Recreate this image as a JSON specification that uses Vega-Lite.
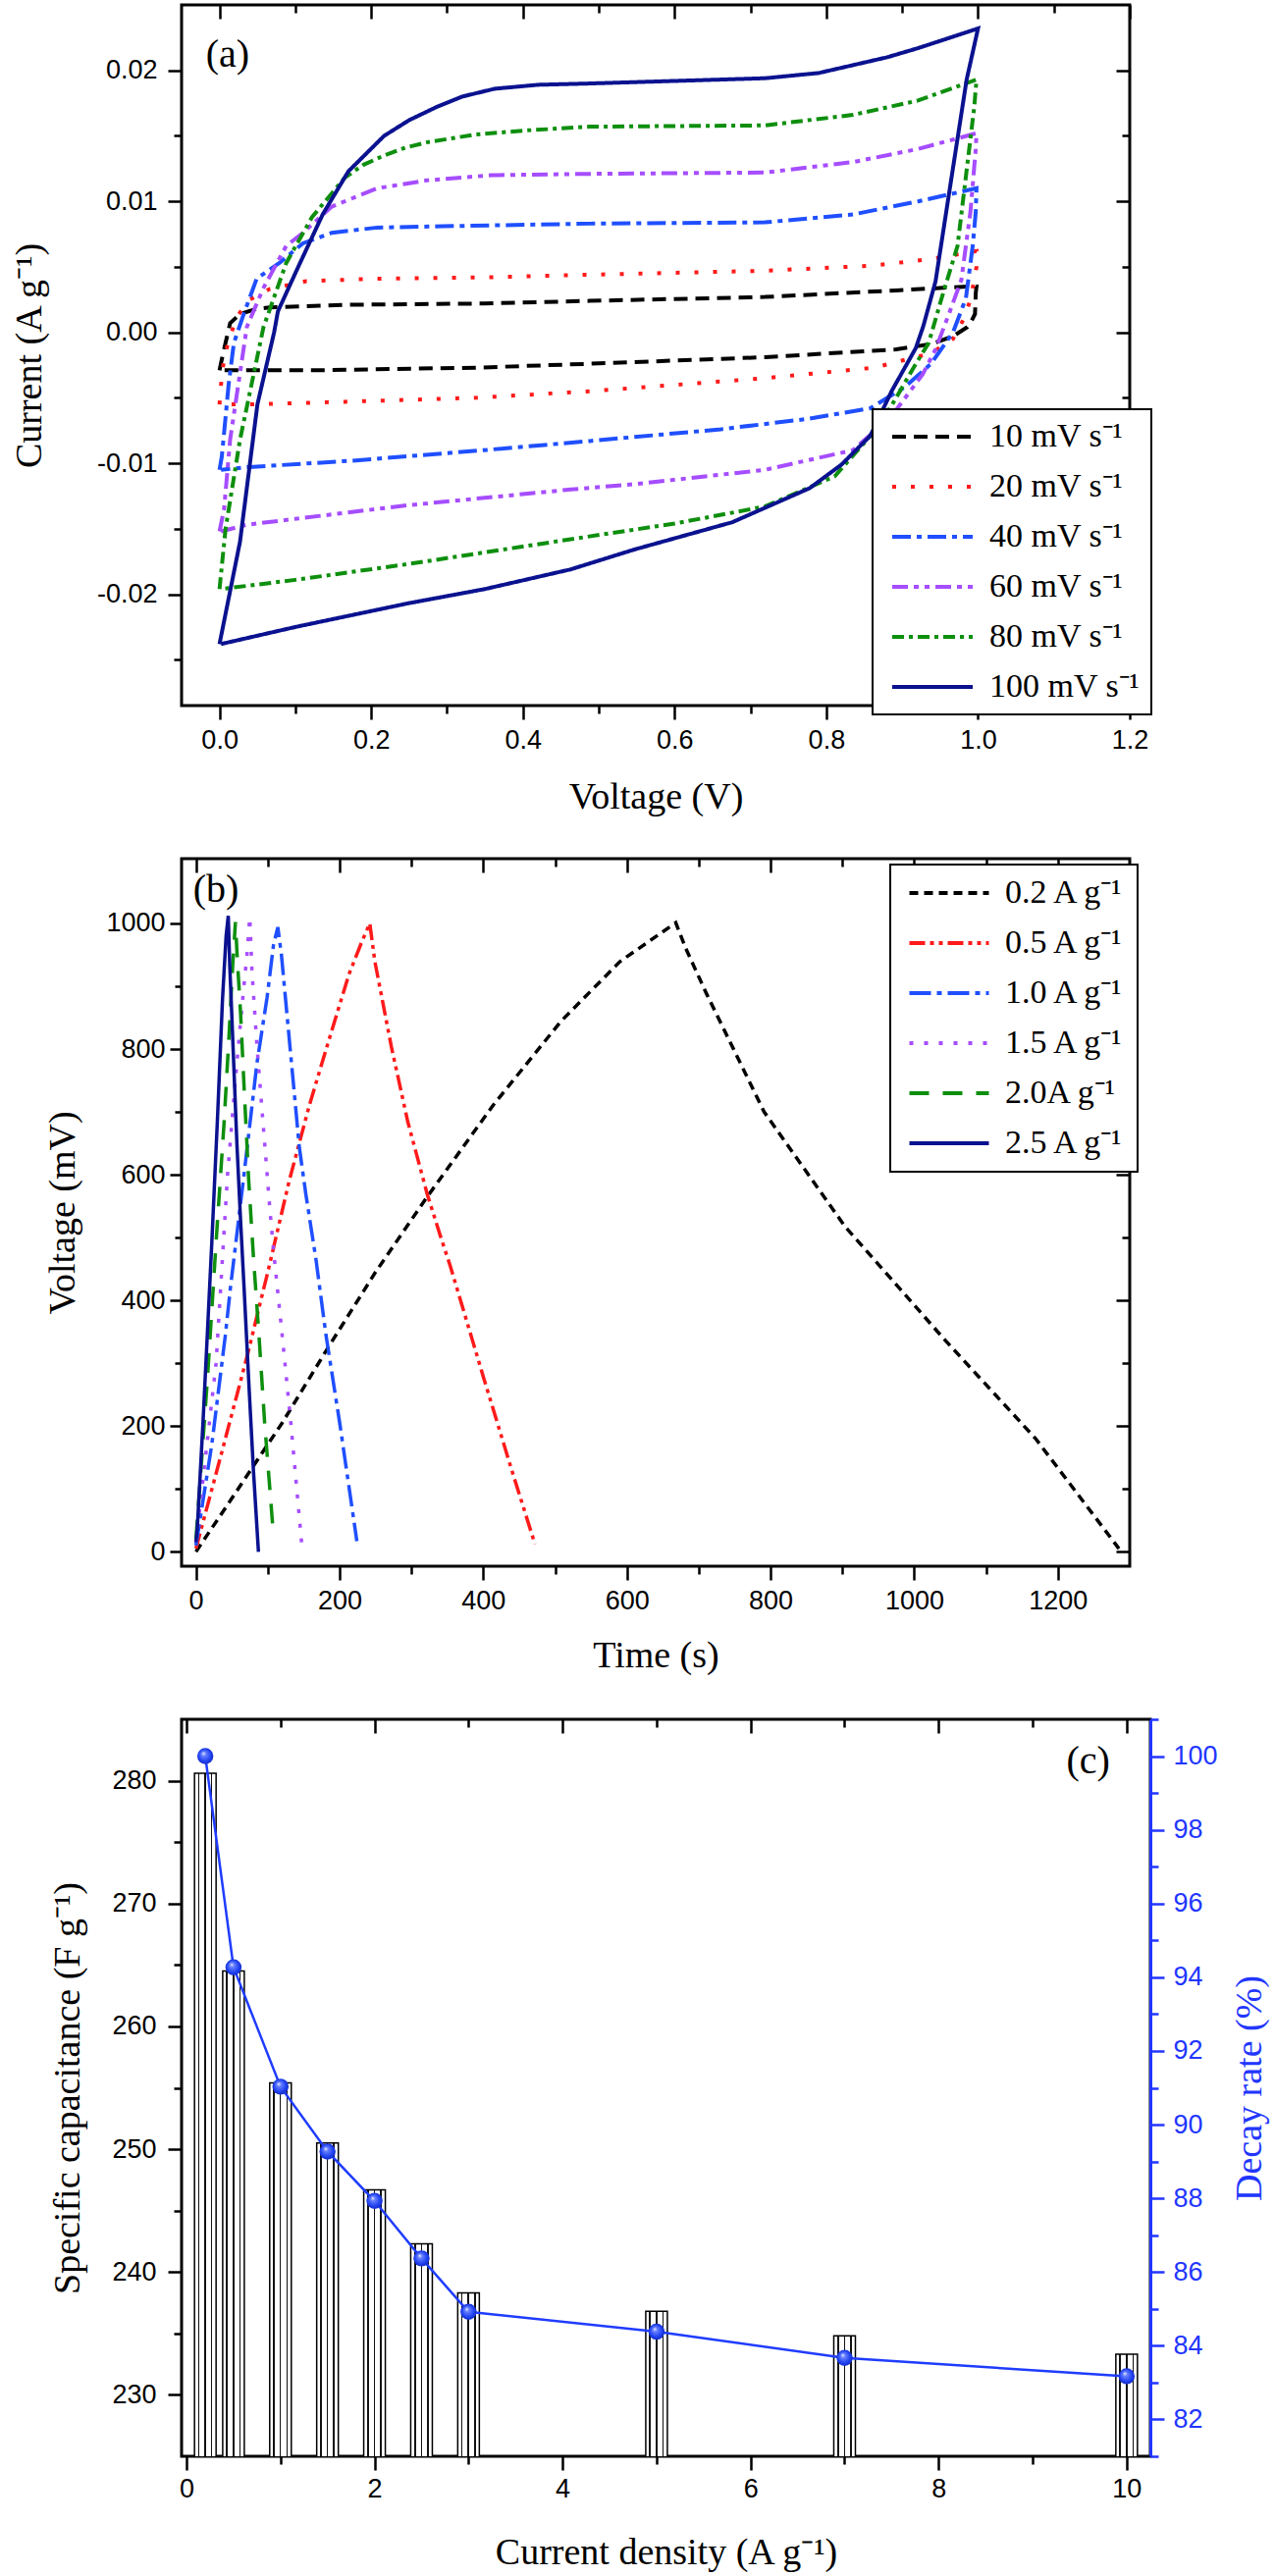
{
  "padding": {"left": 9, "top": 2, "right": 0, "bottom": 0},
  "bounds": "flush",
  "spacing": 156,
  "resolve": {"scale": {"color": "independent", "strokeDash": "independent"}, "legend": {"color": "independent", "strokeDash": "independent"}},
  "config": {
    "view": {"stroke": "black", "strokeWidth": 3},
    "axis": {"grid": false, "domainColor": "black", "domainWidth": 3, "tickColor": "black", "tickWidth": 2.5, "tickSize": 14, "labelFont": "Liberation Sans", "labelFontSize": 27, "labelColor": "black", "labelFlush": false, "labelOverlap": false, "titleFont": "Liberation Serif", "titleFontSize": 38, "titleFontWeight": "normal", "titleColor": "black"},
    "legend": {"labelFont": "Liberation Serif", "labelFontSize": 34, "labelColor": "black", "labelLimit": 400, "fillColor": "white", "strokeColor": "black", "strokeWidth": 2}
  },
  "datasets": {
    "cv": [
      {"s":"10 mV s⁻¹","i":0,"V":0,"I":-0.0029},{"s":"10 mV s⁻¹","i":1,"V":0.004,"I":-0.0018},{"s":"10 mV s⁻¹","i":2,"V":0.008,"I":-0.0008},{"s":"10 mV s⁻¹","i":3,"V":0.014,"I":0.0007},{"s":"10 mV s⁻¹","i":4,"V":0.027,"I":0.0014},{"s":"10 mV s⁻¹","i":5,"V":0.049,"I":0.0018},{"s":"10 mV s⁻¹","i":6,"V":0.066,"I":0.0019},{"s":"10 mV s⁻¹","i":7,"V":0.165,"I":0.0021},{"s":"10 mV s⁻¹","i":8,"V":0.35,"I":0.0022},{"s":"10 mV s⁻¹","i":9,"V":0.488,"I":0.0024},{"s":"10 mV s⁻¹","i":10,"V":0.719,"I":0.0027},{"s":"10 mV s⁻¹","i":11,"V":0.892,"I":0.0032},{"s":"10 mV s⁻¹","i":12,"V":0.986,"I":0.0035},{"s":"10 mV s⁻¹","i":13,"V":0.998,"I":0.0035},{"s":"10 mV s⁻¹","i":14,"V":0.997,"I":0.003},{"s":"10 mV s⁻¹","i":15,"V":0.996,"I":0.0014},{"s":"10 mV s⁻¹","i":16,"V":0.99,"I":0.0007},{"s":"10 mV s⁻¹","i":17,"V":0.986,"I":0.0004},{"s":"10 mV s⁻¹","i":18,"V":0.967,"I":-0.0003},{"s":"10 mV s⁻¹","i":19,"V":0.938,"I":-0.0009},{"s":"10 mV s⁻¹","i":20,"V":0.892,"I":-0.0013},{"s":"10 mV s⁻¹","i":21,"V":0.719,"I":-0.0019},{"s":"10 mV s⁻¹","i":22,"V":0.488,"I":-0.0024},{"s":"10 mV s⁻¹","i":23,"V":0.337,"I":-0.0027},{"s":"10 mV s⁻¹","i":24,"V":0.122,"I":-0.0029},{"s":"10 mV s⁻¹","i":25,"V":0.002,"I":-0.0029},
      {"s":"20 mV s⁻¹","i":0,"V":0,"I":-0.0055},{"s":"20 mV s⁻¹","i":1,"V":0.002,"I":-0.004},{"s":"20 mV s⁻¹","i":2,"V":0.004,"I":-0.0028},{"s":"20 mV s⁻¹","i":3,"V":0.008,"I":-0.0015},{"s":"20 mV s⁻¹","i":4,"V":0.014,"I":-0.0003},{"s":"20 mV s⁻¹","i":5,"V":0.023,"I":0.0012},{"s":"20 mV s⁻¹","i":6,"V":0.04,"I":0.0025},{"s":"20 mV s⁻¹","i":7,"V":0.066,"I":0.0033},{"s":"20 mV s⁻¹","i":8,"V":0.114,"I":0.0039},{"s":"20 mV s⁻¹","i":9,"V":0.208,"I":0.0041},{"s":"20 mV s⁻¹","i":10,"V":0.35,"I":0.0042},{"s":"20 mV s⁻¹","i":11,"V":0.488,"I":0.0044},{"s":"20 mV s⁻¹","i":12,"V":0.719,"I":0.0047},{"s":"20 mV s⁻¹","i":13,"V":0.863,"I":0.0051},{"s":"20 mV s⁻¹","i":14,"V":0.938,"I":0.0056},{"s":"20 mV s⁻¹","i":15,"V":0.998,"I":0.0062},{"s":"20 mV s⁻¹","i":16,"V":0.998,"I":0.005},{"s":"20 mV s⁻¹","i":17,"V":0.995,"I":0.004},{"s":"20 mV s⁻¹","i":18,"V":0.99,"I":0.0025},{"s":"20 mV s⁻¹","i":19,"V":0.981,"I":0.001},{"s":"20 mV s⁻¹","i":20,"V":0.967,"I":-0.0005},{"s":"20 mV s⁻¹","i":21,"V":0.938,"I":-0.0016},{"s":"20 mV s⁻¹","i":22,"V":0.863,"I":-0.0027},{"s":"20 mV s⁻¹","i":23,"V":0.719,"I":-0.0035},{"s":"20 mV s⁻¹","i":24,"V":0.488,"I":-0.0045},{"s":"20 mV s⁻¹","i":25,"V":0.337,"I":-0.005},{"s":"20 mV s⁻¹","i":26,"V":0.165,"I":-0.0053},{"s":"20 mV s⁻¹","i":27,"V":0.045,"I":-0.0055},{"s":"20 mV s⁻¹","i":28,"V":0.002,"I":-0.0055},
      {"s":"40 mV s⁻¹","i":0,"V":0,"I":-0.0105},{"s":"40 mV s⁻¹","i":1,"V":0.003,"I":-0.0095},{"s":"40 mV s⁻¹","i":2,"V":0.006,"I":-0.0077},{"s":"40 mV s⁻¹","i":3,"V":0.012,"I":-0.004},{"s":"40 mV s⁻¹","i":4,"V":0.019,"I":-0.0008},{"s":"40 mV s⁻¹","i":5,"V":0.032,"I":0.0014},{"s":"40 mV s⁻¹","i":6,"V":0.049,"I":0.0041},{"s":"40 mV s⁻¹","i":7,"V":0.079,"I":0.0053},{"s":"40 mV s⁻¹","i":8,"V":0.11,"I":0.0068},{"s":"40 mV s⁻¹","i":9,"V":0.148,"I":0.0076},{"s":"40 mV s⁻¹","i":10,"V":0.208,"I":0.008},{"s":"40 mV s⁻¹","i":11,"V":0.295,"I":0.0081},{"s":"40 mV s⁻¹","i":12,"V":0.488,"I":0.0083},{"s":"40 mV s⁻¹","i":13,"V":0.719,"I":0.0084},{"s":"40 mV s⁻¹","i":14,"V":0.835,"I":0.009},{"s":"40 mV s⁻¹","i":15,"V":0.921,"I":0.01},{"s":"40 mV s⁻¹","i":16,"V":0.998,"I":0.011},{"s":"40 mV s⁻¹","i":17,"V":0.997,"I":0.0092},{"s":"40 mV s⁻¹","i":18,"V":0.993,"I":0.0066},{"s":"40 mV s⁻¹","i":19,"V":0.984,"I":0.0026},{"s":"40 mV s⁻¹","i":20,"V":0.967,"I":0},{"s":"40 mV s⁻¹","i":21,"V":0.938,"I":-0.0024},{"s":"40 mV s⁻¹","i":22,"V":0.903,"I":-0.0042},{"s":"40 mV s⁻¹","i":23,"V":0.858,"I":-0.0058},{"s":"40 mV s⁻¹","i":24,"V":0.777,"I":-0.0066},{"s":"40 mV s⁻¹","i":25,"V":0.661,"I":-0.0074},{"s":"40 mV s⁻¹","i":26,"V":0.488,"I":-0.0083},{"s":"40 mV s⁻¹","i":27,"V":0.348,"I":-0.009},{"s":"40 mV s⁻¹","i":28,"V":0.175,"I":-0.0098},{"s":"40 mV s⁻¹","i":29,"V":0.036,"I":-0.0103},{"s":"40 mV s⁻¹","i":30,"V":0.002,"I":-0.0105},
      {"s":"60 mV s⁻¹","i":0,"V":0,"I":-0.0152},{"s":"60 mV s⁻¹","i":1,"V":0.006,"I":-0.0135},{"s":"60 mV s⁻¹","i":2,"V":0.014,"I":-0.0082},{"s":"60 mV s⁻¹","i":3,"V":0.036,"I":0.0004},{"s":"60 mV s⁻¹","i":4,"V":0.058,"I":0.0034},{"s":"60 mV s⁻¹","i":5,"V":0.088,"I":0.0066},{"s":"60 mV s⁻¹","i":6,"V":0.11,"I":0.0076},{"s":"60 mV s⁻¹","i":7,"V":0.148,"I":0.0096},{"s":"60 mV s⁻¹","i":8,"V":0.208,"I":0.011},{"s":"60 mV s⁻¹","i":9,"V":0.273,"I":0.0116},{"s":"60 mV s⁻¹","i":10,"V":0.359,"I":0.012},{"s":"60 mV s⁻¹","i":11,"V":0.488,"I":0.0121},{"s":"60 mV s⁻¹","i":12,"V":0.719,"I":0.0122},{"s":"60 mV s⁻¹","i":13,"V":0.835,"I":0.013},{"s":"60 mV s⁻¹","i":14,"V":0.921,"I":0.014},{"s":"60 mV s⁻¹","i":15,"V":0.998,"I":0.0152},{"s":"60 mV s⁻¹","i":16,"V":0.997,"I":0.014},{"s":"60 mV s⁻¹","i":17,"V":0.99,"I":0.0092},{"s":"60 mV s⁻¹","i":18,"V":0.978,"I":0.004},{"s":"60 mV s⁻¹","i":19,"V":0.961,"I":0.0013},{"s":"60 mV s⁻¹","i":20,"V":0.944,"I":-0.0013},{"s":"60 mV s⁻¹","i":21,"V":0.927,"I":-0.0032},{"s":"60 mV s⁻¹","i":22,"V":0.886,"I":-0.0064},{"s":"60 mV s⁻¹","i":23,"V":0.835,"I":-0.009},{"s":"60 mV s⁻¹","i":24,"V":0.719,"I":-0.0105},{"s":"60 mV s⁻¹","i":25,"V":0.546,"I":-0.0116},{"s":"60 mV s⁻¹","i":26,"V":0.463,"I":-0.012},{"s":"60 mV s⁻¹","i":27,"V":0.249,"I":-0.0132},{"s":"60 mV s⁻¹","i":28,"V":0.035,"I":-0.0147},{"s":"60 mV s⁻¹","i":29,"V":0.002,"I":-0.0152},
      {"s":"80 mV s⁻¹","i":0,"V":0,"I":-0.0196},{"s":"80 mV s⁻¹","i":1,"V":0.008,"I":-0.015},{"s":"80 mV s⁻¹","i":2,"V":0.027,"I":-0.0082},{"s":"80 mV s⁻¹","i":3,"V":0.058,"I":0.0004},{"s":"80 mV s⁻¹","i":4,"V":0.088,"I":0.0053},{"s":"80 mV s⁻¹","i":5,"V":0.122,"I":0.0088},{"s":"80 mV s⁻¹","i":6,"V":0.165,"I":0.0118},{"s":"80 mV s⁻¹","i":7,"V":0.19,"I":0.0128},{"s":"80 mV s⁻¹","i":8,"V":0.217,"I":0.0135},{"s":"80 mV s⁻¹","i":9,"V":0.245,"I":0.0141},{"s":"80 mV s⁻¹","i":10,"V":0.273,"I":0.0145},{"s":"80 mV s⁻¹","i":11,"V":0.337,"I":0.0151},{"s":"80 mV s⁻¹","i":12,"V":0.4,"I":0.0154},{"s":"80 mV s⁻¹","i":13,"V":0.488,"I":0.0157},{"s":"80 mV s⁻¹","i":14,"V":0.719,"I":0.0158},{"s":"80 mV s⁻¹","i":15,"V":0.835,"I":0.0166},{"s":"80 mV s⁻¹","i":16,"V":0.921,"I":0.0177},{"s":"80 mV s⁻¹","i":17,"V":0.998,"I":0.0193},{"s":"80 mV s⁻¹","i":18,"V":0.995,"I":0.0172},{"s":"80 mV s⁻¹","i":19,"V":0.984,"I":0.0119},{"s":"80 mV s⁻¹","i":20,"V":0.973,"I":0.0066},{"s":"80 mV s⁻¹","i":21,"V":0.952,"I":0.0026},{"s":"80 mV s⁻¹","i":22,"V":0.935,"I":-0.0008},{"s":"80 mV s⁻¹","i":23,"V":0.915,"I":-0.0027},{"s":"80 mV s⁻¹","i":24,"V":0.886,"I":-0.0056},{"s":"80 mV s⁻¹","i":25,"V":0.858,"I":-0.0079},{"s":"80 mV s⁻¹","i":26,"V":0.811,"I":-0.011},{"s":"80 mV s⁻¹","i":27,"V":0.719,"I":-0.0133},{"s":"80 mV s⁻¹","i":28,"V":0.6,"I":-0.0146},{"s":"80 mV s⁻¹","i":29,"V":0.463,"I":-0.0158},{"s":"80 mV s⁻¹","i":30,"V":0.248,"I":-0.0177},{"s":"80 mV s⁻¹","i":31,"V":0.1,"I":-0.0189},{"s":"80 mV s⁻¹","i":32,"V":0.002,"I":-0.0196},
      {"s":"100 mV s⁻¹","i":0,"V":0,"I":-0.0238},{"s":"100 mV s⁻¹","i":1,"V":0.027,"I":-0.016},{"s":"100 mV s⁻¹","i":2,"V":0.05,"I":-0.0055},{"s":"100 mV s⁻¹","i":3,"V":0.072,"I":0},{"s":"100 mV s⁻¹","i":4,"V":0.077,"I":0.0016},{"s":"100 mV s⁻¹","i":5,"V":0.103,"I":0.0049},{"s":"100 mV s⁻¹","i":6,"V":0.136,"I":0.009},{"s":"100 mV s⁻¹","i":7,"V":0.17,"I":0.0123},{"s":"100 mV s⁻¹","i":8,"V":0.217,"I":0.015},{"s":"100 mV s⁻¹","i":9,"V":0.25,"I":0.0162},{"s":"100 mV s⁻¹","i":10,"V":0.286,"I":0.0172},{"s":"100 mV s⁻¹","i":11,"V":0.32,"I":0.018},{"s":"100 mV s⁻¹","i":12,"V":0.363,"I":0.0186},{"s":"100 mV s⁻¹","i":13,"V":0.42,"I":0.0189},{"s":"100 mV s⁻¹","i":14,"V":0.488,"I":0.019},{"s":"100 mV s⁻¹","i":15,"V":0.719,"I":0.0194},{"s":"100 mV s⁻¹","i":16,"V":0.79,"I":0.0198},{"s":"100 mV s⁻¹","i":17,"V":0.835,"I":0.0204},{"s":"100 mV s⁻¹","i":18,"V":0.88,"I":0.021},{"s":"100 mV s⁻¹","i":19,"V":0.921,"I":0.0217},{"s":"100 mV s⁻¹","i":20,"V":1.0,"I":0.0232},{"s":"100 mV s⁻¹","i":21,"V":0.985,"I":0.0193},{"s":"100 mV s⁻¹","i":22,"V":0.961,"I":0.0103},{"s":"100 mV s⁻¹","i":23,"V":0.944,"I":0.0039},{"s":"100 mV s⁻¹","i":24,"V":0.928,"I":0.0005},{"s":"100 mV s⁻¹","i":25,"V":0.918,"I":-0.0012},{"s":"100 mV s⁻¹","i":26,"V":0.886,"I":-0.0045},{"s":"100 mV s⁻¹","i":27,"V":0.858,"I":-0.0079},{"s":"100 mV s⁻¹","i":28,"V":0.82,"I":-0.0101},{"s":"100 mV s⁻¹","i":29,"V":0.778,"I":-0.0119},{"s":"100 mV s⁻¹","i":30,"V":0.676,"I":-0.0145},{"s":"100 mV s⁻¹","i":31,"V":0.546,"I":-0.0166},{"s":"100 mV s⁻¹","i":32,"V":0.463,"I":-0.0181},{"s":"100 mV s⁻¹","i":33,"V":0.35,"I":-0.0196},{"s":"100 mV s⁻¹","i":34,"V":0.248,"I":-0.0207},{"s":"100 mV s⁻¹","i":35,"V":0.1,"I":-0.0225},{"s":"100 mV s⁻¹","i":36,"V":0.002,"I":-0.0238}
    ],
    "gcd": [
      {"s":"0.2 A g⁻¹","i":0,"t":0,"v":0},{"s":"0.2 A g⁻¹","i":1,"t":50,"v":85},{"s":"0.2 A g⁻¹","i":2,"t":120,"v":205},{"s":"0.2 A g⁻¹","i":3,"t":184,"v":325},{"s":"0.2 A g⁻¹","i":4,"t":250,"v":445},{"s":"0.2 A g⁻¹","i":5,"t":322,"v":565},{"s":"0.2 A g⁻¹","i":6,"t":414,"v":711},{"s":"0.2 A g⁻¹","i":7,"t":508,"v":844},{"s":"0.2 A g⁻¹","i":8,"t":590,"v":939},{"s":"0.2 A g⁻¹","i":9,"t":668,"v":1001},{"s":"0.2 A g⁻¹","i":10,"t":682,"v":960},{"s":"0.2 A g⁻¹","i":11,"t":710,"v":890},{"s":"0.2 A g⁻¹","i":12,"t":791,"v":700},{"s":"0.2 A g⁻¹","i":13,"t":904,"v":517},{"s":"0.2 A g⁻¹","i":14,"t":1042,"v":338},{"s":"0.2 A g⁻¹","i":15,"t":1169,"v":180},{"s":"0.2 A g⁻¹","i":16,"t":1285,"v":5},
      {"s":"0.5 A g⁻¹","i":0,"t":0,"v":5},{"s":"0.5 A g⁻¹","i":1,"t":34,"v":150},{"s":"0.5 A g⁻¹","i":2,"t":71,"v":310},{"s":"0.5 A g⁻¹","i":3,"t":100,"v":445},{"s":"0.5 A g⁻¹","i":4,"t":130,"v":591},{"s":"0.5 A g⁻¹","i":5,"t":158,"v":711},{"s":"0.5 A g⁻¹","i":6,"t":185,"v":814},{"s":"0.5 A g⁻¹","i":7,"t":213,"v":919},{"s":"0.5 A g⁻¹","i":8,"t":231,"v":971},{"s":"0.5 A g⁻¹","i":9,"t":242,"v":1000},{"s":"0.5 A g⁻¹","i":10,"t":249,"v":940},{"s":"0.5 A g⁻¹","i":11,"t":272,"v":804},{"s":"0.5 A g⁻¹","i":12,"t":295,"v":684},{"s":"0.5 A g⁻¹","i":13,"t":322,"v":569},{"s":"0.5 A g⁻¹","i":14,"t":341,"v":500},{"s":"0.5 A g⁻¹","i":15,"t":354,"v":455},{"s":"0.5 A g⁻¹","i":16,"t":401,"v":275},{"s":"0.5 A g⁻¹","i":17,"t":438,"v":136},{"s":"0.5 A g⁻¹","i":18,"t":472,"v":12},
      {"s":"1.0 A g⁻¹","i":0,"t":0,"v":10},{"s":"1.0 A g⁻¹","i":1,"t":22,"v":170},{"s":"1.0 A g⁻¹","i":2,"t":41,"v":345},{"s":"1.0 A g⁻¹","i":3,"t":48,"v":420},{"s":"1.0 A g⁻¹","i":4,"t":67,"v":601},{"s":"1.0 A g⁻¹","i":5,"t":85,"v":778},{"s":"1.0 A g⁻¹","i":6,"t":99,"v":882},{"s":"1.0 A g⁻¹","i":7,"t":108,"v":966},{"s":"1.0 A g⁻¹","i":8,"t":114,"v":994},{"s":"1.0 A g⁻¹","i":9,"t":119,"v":950},{"s":"1.0 A g⁻¹","i":10,"t":133,"v":778},{"s":"1.0 A g⁻¹","i":11,"t":144,"v":643},{"s":"1.0 A g⁻¹","i":12,"t":153,"v":569},{"s":"1.0 A g⁻¹","i":13,"t":167,"v":466},{"s":"1.0 A g⁻¹","i":14,"t":181,"v":345},{"s":"1.0 A g⁻¹","i":15,"t":200,"v":206},{"s":"1.0 A g⁻¹","i":16,"t":224,"v":17},
      {"s":"1.5 A g⁻¹","i":0,"t":0,"v":15},{"s":"1.5 A g⁻¹","i":1,"t":28,"v":300},{"s":"1.5 A g⁻¹","i":2,"t":44,"v":600},{"s":"1.5 A g⁻¹","i":3,"t":55,"v":752},{"s":"1.5 A g⁻¹","i":4,"t":64,"v":867},{"s":"1.5 A g⁻¹","i":5,"t":71,"v":950},{"s":"1.5 A g⁻¹","i":6,"t":75,"v":1010},{"s":"1.5 A g⁻¹","i":7,"t":78,"v":924},{"s":"1.5 A g⁻¹","i":8,"t":85,"v":804},{"s":"1.5 A g⁻¹","i":9,"t":94,"v":674},{"s":"1.5 A g⁻¹","i":10,"t":103,"v":544},{"s":"1.5 A g⁻¹","i":11,"t":108,"v":480},{"s":"1.5 A g⁻¹","i":12,"t":120,"v":345},{"s":"1.5 A g⁻¹","i":13,"t":132,"v":206},{"s":"1.5 A g⁻¹","i":14,"t":148,"v":3},
      {"s":"2.0A g⁻¹","i":0,"t":0,"v":20},{"s":"2.0A g⁻¹","i":1,"t":16,"v":275},{"s":"2.0A g⁻¹","i":2,"t":28,"v":492},{"s":"2.0A g⁻¹","i":3,"t":39,"v":680},{"s":"2.0A g⁻¹","i":4,"t":46,"v":820},{"s":"2.0A g⁻¹","i":5,"t":51,"v":930},{"s":"2.0A g⁻¹","i":6,"t":55,"v":1002},{"s":"2.0A g⁻¹","i":7,"t":57.5,"v":945},{"s":"2.0A g⁻¹","i":8,"t":62,"v":860},{"s":"2.0A g⁻¹","i":9,"t":67,"v":740},{"s":"2.0A g⁻¹","i":10,"t":73.5,"v":590},{"s":"2.0A g⁻¹","i":11,"t":80,"v":470},{"s":"2.0A g⁻¹","i":12,"t":88,"v":340},{"s":"2.0A g⁻¹","i":13,"t":95.6,"v":206},{"s":"2.0A g⁻¹","i":14,"t":108,"v":25},
      {"s":"2.5 A g⁻¹","i":0,"t":0,"v":15},{"s":"2.5 A g⁻¹","i":1,"t":2,"v":40},{"s":"2.5 A g⁻¹","i":2,"t":10,"v":210},{"s":"2.5 A g⁻¹","i":3,"t":22,"v":490},{"s":"2.5 A g⁻¹","i":4,"t":30,"v":690},{"s":"2.5 A g⁻¹","i":5,"t":37,"v":880},{"s":"2.5 A g⁻¹","i":6,"t":42,"v":980},{"s":"2.5 A g⁻¹","i":7,"t":45,"v":1012},{"s":"2.5 A g⁻¹","i":8,"t":47,"v":935},{"s":"2.5 A g⁻¹","i":9,"t":49,"v":880},{"s":"2.5 A g⁻¹","i":10,"t":57,"v":650},{"s":"2.5 A g⁻¹","i":11,"t":62,"v":530},{"s":"2.5 A g⁻¹","i":12,"t":67,"v":420},{"s":"2.5 A g⁻¹","i":13,"t":74,"v":260},{"s":"2.5 A g⁻¹","i":14,"t":80,"v":130},{"s":"2.5 A g⁻¹","i":15,"t":87,"v":0}
    ],
    "cap": [
      {"d":0.2,"c":280.6,"r":100},{"d":0.5,"c":264.5,"r":94.27},{"d":1,"c":255.4,"r":91.03},{"d":1.5,"c":250.5,"r":89.27},{"d":2,"c":246.7,"r":87.93},{"d":2.5,"c":242.3,"r":86.37},{"d":3,"c":238.3,"r":84.92},{"d":5,"c":236.8,"r":84.38},{"d":7,"c":234.8,"r":83.67},{"d":10,"c":233.3,"r":83.17}
    ]
  },
  "vconcat": [
    {
      "width": 966, "height": 714,
      "data": {"name": "cv"},
      "layer": [
        {
          "mark": {"type": "line", "strokeWidth": 4},
          "encoding": {
            "x": {"field": "V", "type": "quantitative", "scale": {"domain": [-0.05, 1.2], "nice": false, "zero": false}, "axis": {"orient": "bottom", "values": [0, 0.2, 0.4, 0.6, 0.8, 1, 1.2], "format": ".1f", "domain": false, "labelPadding": 8, "title": "Voltage (V)", "titlePadding": 26}},
            "y": {"field": "I", "type": "quantitative", "scale": {"domain": [-0.0285, 0.025], "nice": false, "zero": false}, "axis": {"orient": "left", "values": [-0.02, -0.01, 0, 0.01, 0.02], "labelExpr": "datum.value < 0 ? '-' + format(-datum.value, '.2f') : format(datum.value, '.2f')", "domain": false, "labelPadding": 11, "title": "Current (A g⁻¹)", "titlePadding": 49}},
            "order": {"field": "i", "type": "quantitative"},
            "color": {"field": "s", "type": "nominal", "scale": {"domain": ["10 mV s⁻¹", "20 mV s⁻¹", "40 mV s⁻¹", "60 mV s⁻¹", "80 mV s⁻¹", "100 mV s⁻¹"], "range": ["#000000", "#ff1a1a", "#1f4fff", "#a64dff", "#0e8f0e", "#0a128f"]},
              "legend": {"orient": "none", "legendX": 704, "legendY": 412, "title": null, "padding": 11, "rowPadding": 17, "symbolType": "M-4.1,0H4.1", "symbolSize": 400, "symbolStrokeWidth": 4, "symbolOffset": 33, "labelOffset": 41}},
            "strokeDash": {"field": "s", "type": "nominal", "scale": {"domain": ["10 mV s⁻¹", "20 mV s⁻¹", "40 mV s⁻¹", "60 mV s⁻¹", "80 mV s⁻¹", "100 mV s⁻¹"], "range": [[14, 8], [4, 15], [19, 6, 5, 6], [16, 6, 5, 6, 5, 6], [12, 5, 4, 5], [1, 0]]},
              "legend": {"orient": "none", "legendX": 704, "legendY": 412, "title": null, "padding": 11, "rowPadding": 17, "symbolType": "M-4.1,0H4.1", "symbolSize": 400, "symbolStrokeWidth": 4, "symbolOffset": 33, "labelOffset": 41}}
          }
        },
        {
          "mark": {"type": "point", "opacity": 0},
          "encoding": {
            "x": {"field": "V", "type": "quantitative", "scale": {"domain": [-0.05, 1.2], "nice": false, "zero": false}, "axis": {"orient": "bottom", "values": [0.1, 0.3, 0.5, 0.7, 0.9, 1.1], "labels": false, "domain": false, "tickSize": 8, "title": null}},
            "y": {"field": "I", "type": "quantitative", "scale": {"domain": [-0.0285, 0.025], "nice": false, "zero": false}, "axis": {"orient": "left", "values": [-0.025, -0.015, -0.005, 0.005, 0.015], "labels": false, "domain": false, "tickSize": 8, "title": null}}
          }
        },
        {
          "mark": {"type": "point", "opacity": 0},
          "encoding": {
            "x": {"field": "V", "type": "quantitative", "scale": {"domain": [-0.05, 1.2], "nice": false, "zero": false}, "axis": {"orient": "bottom", "offset": -714, "values": [0, 0.2, 0.4, 0.6, 0.8, 1, 1.2], "labels": false, "domain": false, "tickSize": 14, "title": null}},
            "y": {"field": "I", "type": "quantitative", "scale": {"domain": [-0.0285, 0.025], "nice": false, "zero": false}, "axis": {"orient": "left", "offset": -966, "values": [-0.02, -0.01, 0, 0.01, 0.02], "labels": false, "domain": false, "tickSize": 14, "title": null}}
          }
        },
        {
          "mark": {"type": "point", "opacity": 0},
          "encoding": {
            "x": {"field": "V", "type": "quantitative", "scale": {"domain": [-0.05, 1.2], "nice": false, "zero": false}, "axis": {"orient": "bottom", "offset": -714, "values": [0.1, 0.3, 0.5, 0.7, 0.9, 1.1], "labels": false, "domain": false, "tickSize": 8, "title": null}},
            "y": {"field": "I", "type": "quantitative", "scale": {"domain": [-0.0285, 0.025], "nice": false, "zero": false}, "axis": {"orient": "left", "offset": -966, "values": [-0.025, -0.015, -0.005, 0.005, 0.015], "labels": false, "domain": false, "tickSize": 8, "title": null}}
          }
        },
        {
          "data": {"values": [{}]},
          "mark": {"type": "text", "align": "left", "baseline": "middle", "font": "Liberation Serif", "fontSize": 40, "color": "black"},
          "encoding": {
            "x": {"datum": -0.018, "type": "quantitative", "scale": {"domain": [-0.05, 1.2], "nice": false, "zero": false}, "axis": null},
            "y": {"datum": 0.0212, "type": "quantitative", "scale": {"domain": [-0.0285, 0.025], "nice": false, "zero": false}, "axis": null},
            "text": {"value": "(a)"}
          }
        }
      ],
      "resolve": {"axis": {"x": "independent", "y": "independent"}}
    },
    {
      "width": 966, "height": 721,
      "data": {"name": "gcd"},
      "layer": [
        {
          "mark": {"type": "line", "strokeWidth": 3.5},
          "encoding": {
            "x": {"field": "t", "type": "quantitative", "scale": {"domain": [-20, 1300], "nice": false, "zero": false}, "axis": {"orient": "bottom", "values": [0, 200, 400, 600, 800, 1000, 1200], "format": "d", "domain": false, "labelPadding": 8, "title": "Time (s)", "titlePadding": 24}},
            "y": {"field": "v", "type": "quantitative", "scale": {"domain": [-23, 1103], "nice": false, "zero": false}, "axis": {"orient": "left", "values": [0, 200, 400, 600, 800, 1000], "format": "d", "domain": false, "tickSize": 12, "labelPadding": 5, "title": "Voltage (mV)", "titlePadding": 24}},
            "order": {"field": "i", "type": "quantitative"},
            "color": {"field": "s", "type": "nominal", "scale": {"domain": ["0.2 A g⁻¹", "0.5 A g⁻¹", "1.0 A g⁻¹", "1.5 A g⁻¹", "2.0A g⁻¹", "2.5 A g⁻¹"], "range": ["#000000", "#ff1a1a", "#1f4fff", "#a64dff", "#0e8f0e", "#0a128f"]},
              "legend": {"orient": "none", "legendX": 722, "legendY": 6, "title": null, "padding": 12, "rowPadding": 17, "symbolType": "M-4.05,0H4.05", "symbolSize": 400, "symbolStrokeWidth": 4, "symbolOffset": 31, "labelOffset": 40}},
            "strokeDash": {"field": "s", "type": "nominal", "scale": {"domain": ["0.2 A g⁻¹", "0.5 A g⁻¹", "1.0 A g⁻¹", "1.5 A g⁻¹", "2.0A g⁻¹", "2.5 A g⁻¹"], "range": [[9, 6], [16, 5, 4, 5, 4, 5], [22, 6, 5, 6], [4, 11], [20, 14], [1, 0]]},
              "legend": {"orient": "none", "legendX": 722, "legendY": 6, "title": null, "padding": 12, "rowPadding": 17, "symbolType": "M-4.05,0H4.05", "symbolSize": 400, "symbolStrokeWidth": 4, "symbolOffset": 31, "labelOffset": 40}}
          }
        },
        {
          "mark": {"type": "point", "opacity": 0},
          "encoding": {
            "x": {"field": "t", "type": "quantitative", "scale": {"domain": [-20, 1300], "nice": false, "zero": false}, "axis": {"orient": "bottom", "values": [100, 300, 500, 700, 900, 1100], "labels": false, "domain": false, "tickSize": 8, "title": null}},
            "y": {"field": "v", "type": "quantitative", "scale": {"domain": [-23, 1103], "nice": false, "zero": false}, "axis": {"orient": "left", "values": [100, 300, 500, 700, 900], "labels": false, "domain": false, "tickSize": 7, "title": null}}
          }
        },
        {
          "mark": {"type": "point", "opacity": 0},
          "encoding": {
            "x": {"field": "t", "type": "quantitative", "scale": {"domain": [-20, 1300], "nice": false, "zero": false}, "axis": {"orient": "bottom", "offset": -721, "values": [0, 200, 400, 600, 800, 1000, 1200], "labels": false, "domain": false, "tickSize": 14, "title": null}},
            "y": {"field": "v", "type": "quantitative", "scale": {"domain": [-23, 1103], "nice": false, "zero": false}, "axis": {"orient": "left", "offset": -966, "values": [0, 200, 400, 600, 800, 1000], "labels": false, "domain": false, "tickSize": 14, "title": null}}
          }
        },
        {
          "mark": {"type": "point", "opacity": 0},
          "encoding": {
            "x": {"field": "t", "type": "quantitative", "scale": {"domain": [-20, 1300], "nice": false, "zero": false}, "axis": {"orient": "bottom", "offset": -721, "values": [100, 300, 500, 700, 900, 1100], "labels": false, "domain": false, "tickSize": 8, "title": null}},
            "y": {"field": "v", "type": "quantitative", "scale": {"domain": [-23, 1103], "nice": false, "zero": false}, "axis": {"orient": "left", "offset": -966, "values": [100, 300, 500, 700, 900], "labels": false, "domain": false, "tickSize": 8, "title": null}}
          }
        },
        {
          "data": {"values": [{}]},
          "mark": {"type": "text", "align": "left", "baseline": "middle", "font": "Liberation Serif", "fontSize": 40, "color": "black"},
          "encoding": {
            "x": {"datum": -4, "type": "quantitative", "scale": {"domain": [-20, 1300], "nice": false, "zero": false}, "axis": null},
            "y": {"datum": 1053, "type": "quantitative", "scale": {"domain": [-23, 1103], "nice": false, "zero": false}, "axis": null},
            "text": {"value": "(b)"}
          }
        }
      ],
      "resolve": {"axis": {"x": "independent", "y": "independent"}}
    },
    {
      "width": 987, "height": 751,
      "data": {"name": "cap"},
      "layer": [
        {
          "mark": {"type": "bar", "size": 22, "clip": true, "stroke": "black", "strokeWidth": 1.5,
            "fill": {"gradient": "linear", "x1": 0, "y1": 0, "x2": 1, "y2": 0, "stops": [
              {"offset": 0, "color": "#ffffff"}, {"offset": 0.16, "color": "#ffffff"}, {"offset": 0.16, "color": "#111111"}, {"offset": 0.23, "color": "#111111"}, {"offset": 0.23, "color": "#ffffff"},
              {"offset": 0.46, "color": "#ffffff"}, {"offset": 0.46, "color": "#111111"}, {"offset": 0.53, "color": "#111111"}, {"offset": 0.53, "color": "#ffffff"},
              {"offset": 0.76, "color": "#ffffff"}, {"offset": 0.76, "color": "#111111"}, {"offset": 0.83, "color": "#111111"}, {"offset": 0.83, "color": "#ffffff"}, {"offset": 1, "color": "#ffffff"}]}},
          "encoding": {
            "x": {"field": "d", "type": "quantitative", "scale": {"domain": [0, 10.2], "nice": false, "zero": false}, "axis": {"orient": "bottom", "values": [0, 2, 4, 6, 8, 10], "domain": false, "labelPadding": 6, "title": "Current density (A g⁻¹)", "titlePadding": 33}},
            "y": {"field": "c", "type": "quantitative", "scale": {"domain": [225, 285], "nice": false, "zero": false}, "axis": {"orient": "left", "values": [230, 240, 250, 260, 270, 280], "domain": false, "labelPadding": 12, "title": "Specific capacitance (F g⁻¹)", "titlePadding": 25}}
          }
        },
        {
          "mark": {"type": "point", "opacity": 0},
          "encoding": {
            "x": {"field": "d", "type": "quantitative", "scale": {"domain": [0, 10.2], "nice": false, "zero": false}, "axis": {"orient": "bottom", "values": [1, 3, 5, 7, 9], "labels": false, "domain": false, "tickSize": 8, "title": null}},
            "y": {"field": "c", "type": "quantitative", "scale": {"domain": [225, 285], "nice": false, "zero": false}, "axis": {"orient": "left", "values": [235, 245, 255, 265, 275], "labels": false, "domain": false, "tickSize": 8, "title": null}}
          }
        },
        {
          "mark": {"type": "line", "color": "#1f3cff", "strokeWidth": 2.5},
          "encoding": {
            "x": {"field": "d", "type": "quantitative", "scale": {"domain": [0, 10.2], "nice": false, "zero": false}, "axis": {"orient": "bottom", "offset": -751, "values": [0, 2, 4, 6, 8, 10], "labels": false, "domain": false, "tickSize": 14, "title": null}},
            "y": {"field": "r", "type": "quantitative", "scale": {"domain": [81, 101], "nice": false, "zero": false}, "axis": {"orient": "right", "values": [82, 84, 86, 88, 90, 92, 94, 96, 98, 100], "domainColor": "#2236ff", "tickColor": "#2236ff", "labelColor": "#2236ff", "labelPadding": 9, "title": "Decay rate (%)", "titleColor": "#2236ff", "titleAngle": 270, "titleBaseline": "top", "titlePadding": 14}}
          }
        },
        {
          "mark": {"type": "point", "filled": true, "size": 270, "opacity": 1,
            "fill": {"gradient": "radial", "x1": 0.38, "y1": 0.32, "r1": 0, "x2": 0.5, "y2": 0.5, "r2": 0.55, "stops": [{"offset": 0, "color": "#eef0ff"}, {"offset": 0.25, "color": "#6680ff"}, {"offset": 0.7, "color": "#2040f0"}, {"offset": 1, "color": "#1028b8"}]}},
          "encoding": {
            "x": {"field": "d", "type": "quantitative", "scale": {"domain": [0, 10.2], "nice": false, "zero": false}, "axis": {"orient": "bottom", "offset": -751, "values": [1, 3, 5, 7, 9], "labels": false, "domain": false, "tickSize": 8, "title": null}},
            "y": {"field": "r", "type": "quantitative", "scale": {"domain": [81, 101], "nice": false, "zero": false}, "axis": {"orient": "right", "values": [81, 83, 85, 87, 89, 91, 93, 95, 97, 99, 101], "labels": false, "domain": false, "tickSize": 8, "tickColor": "#2236ff", "title": null}}
          }
        },
        {
          "data": {"values": [{}]},
          "mark": {"type": "text", "align": "left", "baseline": "middle", "font": "Liberation Serif", "fontSize": 40, "color": "black"},
          "encoding": {
            "x": {"datum": 9.36, "type": "quantitative", "scale": {"domain": [0, 10.2], "nice": false, "zero": false}, "axis": null},
            "y": {"datum": 281.6, "type": "quantitative", "scale": {"domain": [225, 285], "nice": false, "zero": false}, "axis": null},
            "text": {"value": "(c)"}
          }
        }
      ],
      "resolve": {"scale": {"y": "independent"}, "axis": {"x": "independent", "y": "independent"}}
    }
  ]
}
